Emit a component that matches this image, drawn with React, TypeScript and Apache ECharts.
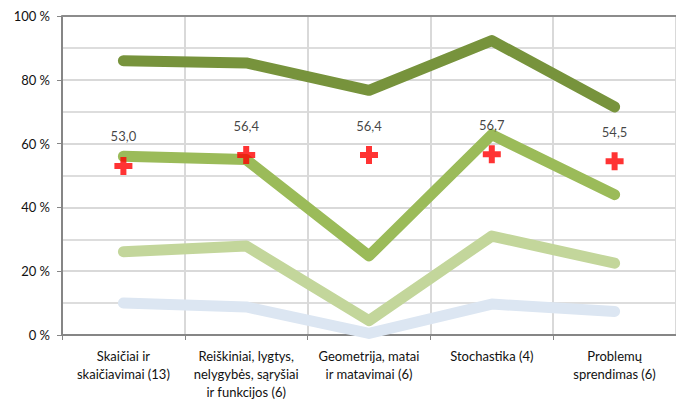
import React, { useEffect, useRef } from "react";
import * as echarts from "echarts";

const categories = [
  "Skaičiai ir\nskaičiavimai (13)",
  "Reiškiniai, lygtys,\nnelygybės, sąryšiai\nir funkcijos (6)",
  "Geometrija, matai\nir matavimai (6)",
  "Stochastika (4)",
  "Problemų\nsprendimas (6)",
];
const darkGreen = [86.0, 85.3, 76.7, 92.3, 71.5];
const midGreen = [56.0, 55.0, 24.8, 62.8, 44.0];
const lightGreen = [26.1, 27.9, 4.5, 31.0, 22.5];
const lightBlue = [10.0, 8.8, 0.5, 9.7, 7.4];
const averages = [53.0, 56.4, 56.4, 56.7, 54.5];
const topBorderValue = 100;

const FONT = "Lato, 'Open Sans', sans-serif";

export default function App() {
  const ref = useRef<HTMLDivElement>(null);
  useEffect(() => {
    if (!ref.current) return;
    const chart = echarts.init(ref.current, undefined, { renderer: "svg" });
    const lineSeries = (data: number[], color: string, z: number) => ({
      type: "line",
      data,
      showSymbol: false,
      symbol: "none",
      z,
      lineStyle: { color, width: 11, cap: "round", join: "round" },
      clip: true,
    });
    chart.setOption({
      animation: false,
      backgroundColor: "#ffffff",
      grid: { left: 62, top: 16, width: 620, height: 320 },
      xAxis: {
        type: "category",
        data: categories,
        boundaryGap: true,
        axisLine: { lineStyle: { color: "#868686", width: 2 } },
        axisTick: { show: true, length: 5, lineStyle: { color: "#868686" } },
        splitLine: { show: true, lineStyle: { color: "#D9D9D9", width: 2 } },
        axisLabel: {
          color: "#111111",
          fontFamily: FONT,
          fontSize: 13,
          lineHeight: 18,
          margin: 12,
          interval: 0,
          verticalAlign: "top",
        },
      },
      yAxis: {
        type: "value",
        min: 0,
        max: 100,
        interval: 20,
        axisLine: { show: true, lineStyle: { color: "#868686", width: 2 } },
        axisTick: { show: true, length: 5, lineStyle: { color: "#868686" } },
        splitLine: { show: true, lineStyle: { color: "#D9D9D9", width: 2 } },
        minorTick: { show: false, splitNumber: 2 },
        minorSplitLine: { show: true, lineStyle: { color: "#DDDDDD", width: 2 } },
        axisLabel: {
          color: "#111111",
          fontFamily: FONT,
          fontSize: 13,
          margin: 12,
          formatter: "{value} %",
        },
      },
      series: [
        {
          ...lineSeries(lightBlue, "#DCE6F2", 2),
          markLine: {
            silent: true,
            symbol: "none",
            label: { show: false },
            lineStyle: { color: "#8C8C8C", width: 2, type: "solid" },
            data: [{ yAxis: topBorderValue }],
          },
        },
        lineSeries(lightGreen, "#C3D69B", 3),
        lineSeries(midGreen, "#9BBB59", 4),
        lineSeries(darkGreen, "#77933C", 5),
        {
          type: "scatter",
          data: averages,
          z: 10,
          symbol: "path://M3,0H6V3H9V6H6V9H3V6H0V3H3Z",
          symbolSize: 18,
          itemStyle: { color: "#FF0000" },
          label: {
            show: true,
            position: "top",
            distance: 14,
            color: "#111111",
            fontFamily: FONT,
            fontSize: 13,
            formatter: (p: any) => Number(p.value).toFixed(1).replace(".", ","),
          },
        },
      ],
    });
    return () => chart.dispose();
  }, []);
  return (
    <div
      ref={ref}
      style={{ position: "fixed", left: 0, top: 0, width: 676, height: 401, background: "#fff" }}
    />
  );
}
